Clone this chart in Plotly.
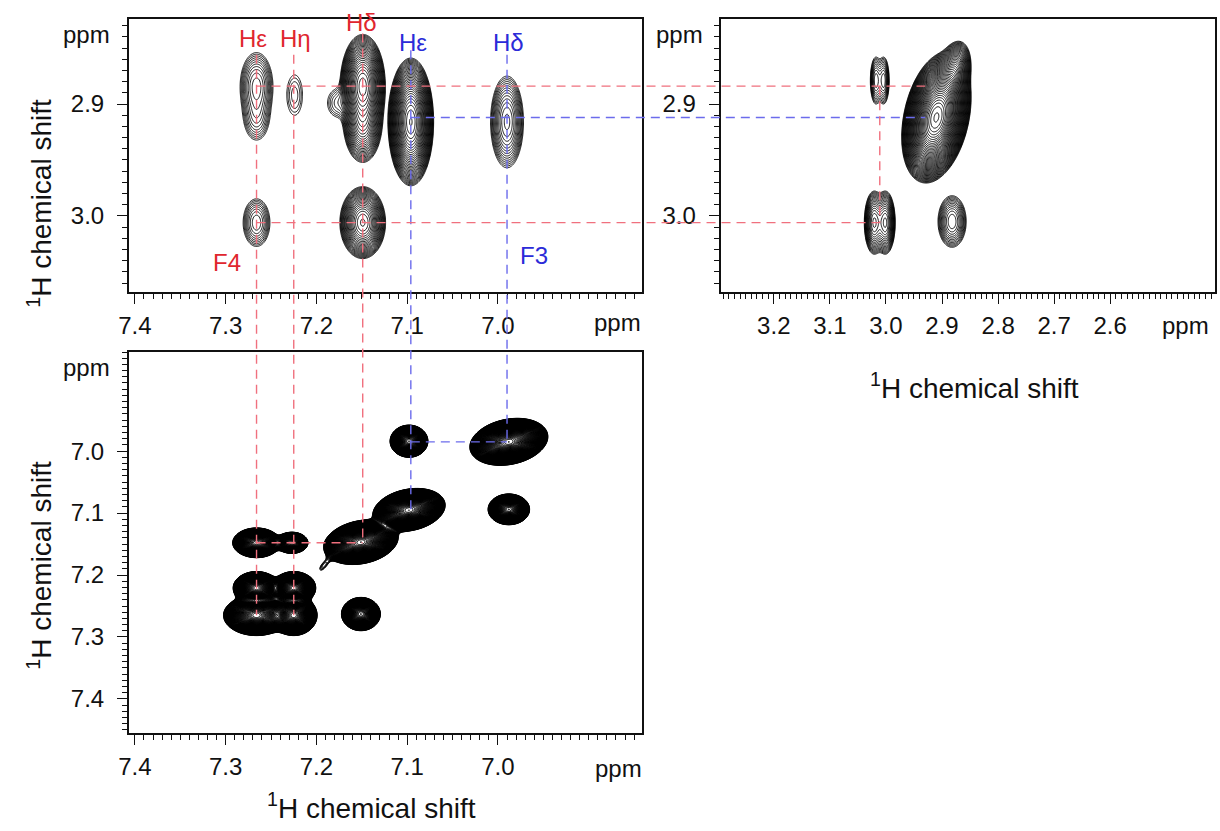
import numpy as np
import plotly.graph_objects as go

W, H = 1220, 831
FONT = "Liberation Sans, Arial, Helvetica, sans-serif"
INK = "#111111"
RED_DASH, BLUE_DASH = "#f0707e", "#6c6cec"
RED_TEXT, BLUE_TEXT = "#e0262e", "#2b2bd8"

# ppm windows (first value sits at the left / bottom edge of a frame)
x_aro_range = [7.4066, 6.841]
y_beta_range = [3.068, 2.824]
x_beta_range = [3.295, 2.413]
y_aro_range = [7.455, 6.840]

# tick marks
aro_xticks = [7.4, 7.3, 7.2, 7.1, 7.0]
aro_xlabels = ["7.4", "7.3", "7.2", "7.1", "7.0"]
aro_yticks = [7.0, 7.1, 7.2, 7.3, 7.4]
aro_ylabels = ["7.0", "7.1", "7.2", "7.3", "7.4"]
beta_yticks = [2.9, 3.0]
beta_ylabels = ["2.9", "3.0"]
beta_xticks = [3.2, 3.1, 3.0, 2.9, 2.8, 2.7, 2.6]
beta_xlabels = ["3.2", "3.1", "3.0", "2.9", "2.8", "2.7", "2.6"]

# cross peaks: aromatic (x) vs beta (y)
ab_x = [7.266, 7.266, 7.266, 7.224, 7.149, 7.149, 7.176, 7.149, 7.096, 6.990]
ab_y = [2.884, 2.912, 3.006, 2.892, 2.884, 2.915, 2.899, 3.006, 2.916, 2.916]
ab_sx = [0.0086, 0.0080, 0.0077, 0.0071, 0.0075, 0.0075, 0.0085, 0.0083, 0.0070, 0.0077]
ab_sy = [0.0143, 0.0120, 0.0111, 0.0148, 0.0139, 0.0130, 0.0090, 0.0106, 0.0159, 0.0174]
ab_amp = [9, 4, 6.3, 2.1, 250, 60, 2.6, 100, 630, 16]
ab_rho = [0, 0, 0, 0, 0, 0, 0, 0, 0, 0]

# beta (x) vs beta (y)
bb_x = [3.018, 3.004, 3.021, 3.001, 2.882, 2.910, 2.880]
bb_y = [2.879, 2.879, 3.006, 3.006, 3.005, 2.912, 2.874]
bb_sx = [0.0052, 0.0052, 0.0072, 0.0072, 0.0120, 0.0150, 0.0110]
bb_sy = [0.0110, 0.0110, 0.0115, 0.0115, 0.0110, 0.0142, 0.0105]
bb_amp = [6, 6, 20, 20, 9, 5000, 60]
bb_rho = [0, 0, 0, 0, 0, 0.3, 0.3]

# aromatic (x) vs aromatic (y)
aa_x = [7.098, 6.988, 6.988, 7.098, 7.151, 7.151, 7.266, 7.227,
        7.266, 7.266, 7.225, 7.225, 7.192]
aa_y = [6.984, 6.985, 7.094, 7.095, 7.147, 7.263, 7.148, 7.148,
        7.221, 7.265, 7.221, 7.265, 7.185]
aa_sx = [0.0073, 0.0136, 0.0080, 0.0126, 0.0130, 0.0075, 0.0092, 0.0068,
         0.0085, 0.0120, 0.0080, 0.0085, 0.0060]
aa_sy = [0.0091, 0.0120, 0.0087, 0.0110, 0.0114, 0.0094, 0.0084, 0.0066,
         0.0088, 0.0108, 0.0088, 0.0108, 0.0100]
aa_amp = [60, 150, 60, 150, 150, 60, 60, 30, 100, 100, 100, 100, 1.3]
aa_rho = [0, 0.22, 0, 0.22, 0.22, 0, 0, 0, 0, 0, 0, 0, 0.7]

# assignment walk: verticals run from the top frame down into the lower frame
v_x = [7.266, 7.225, 7.149, 7.096, 6.990]
v_from_beta = [2.856, 2.856, 2.837, 2.852, 2.856]
v_to_aro = [7.265, 7.265, 7.148, 7.095, 6.985]
v_red = [True, True, True, False, False]
# horizontals run from the aromatic frame across into the beta frame
h_y = [2.884, 3.006, 2.912]
h_from_aro = [7.266, 7.266, 7.096]
h_to_beta = [2.930, 3.011, 2.930]
h_red = [True, True, False]

# peak labels
lab_text = ["Hε", "Hη", "Hδ", "Hε", "Hδ", "F4", "F3"]
lab_x = [7.270, 7.223, 7.150, 7.094, 6.988, 7.298, 6.960]
lab_y = [2.841, 2.841, 2.827, 2.845, 2.845, 3.042, 3.035]
lab_red = [True, True, True, False, False, True, False]

# frames in pixels: left, top, right, bottom
TL = (119, 19, 637, 292)
TR = (716, 19, 1215, 292)
BL = (119, 352, 637, 733)


def xdom(f):
    return [f[0] / W, f[2] / W]


def ydom(f):
    return [1 - f[3] / H, 1 - f[1] / H]


def to_paper(v, domain, rng):
    return domain[0] + (v - rng[0]) / (rng[1] - rng[0]) * (domain[1] - domain[0])


def spectrum(xr, yr, nx, ny, px, py, sx, sy, amp, rho):
    x = np.linspace(min(xr), max(xr), nx)
    y = np.linspace(min(yr), max(yr), ny)
    X, Y = np.meshgrid(x, y)
    inten = np.zeros_like(X)
    for cx, cy, wx, wy, a, r in zip(px, py, sx, sy, amp, rho):
        dx = (X - cx) / wx
        dy = (Y - cy) / wy
        q = (dx * dx - 2 * r * dx * dy + dy * dy) / (1 - r * r)
        inten += a * np.exp(-0.5 * q)
    return x, y, np.log10(inten + 1e-9)


def contour(xr, yr, nx, ny, peaks, step, xa, ya, lw):
    x, y, z = spectrum(xr, yr, nx, ny, *peaks)
    return go.Contour(
        x=x, y=y, z=z, xaxis=xa, yaxis=ya,
        autocontour=False,
        contours=dict(coloring="lines", start=0.0, end=float(z.max()), size=step),
        colorscale=[[0, "#000000"], [1, "#000000"]],
        line=dict(width=lw),
        showscale=False, hoverinfo="skip",
    )


fig = go.Figure()
fig.add_trace(contour(x_aro_range, y_beta_range, 560, 300,
                      (ab_x, ab_y, ab_sx, ab_sy, ab_amp, ab_rho), 0.09, "x", "y", 0.9))
fig.add_trace(contour(x_beta_range, y_beta_range, 540, 300,
                      (bb_x, bb_y, bb_sx, bb_sy, bb_amp, bb_rho), 0.08, "x2", "y2", 0.9))
fig.add_trace(contour(x_aro_range, y_aro_range, 560, 420,
                      (aa_x, aa_y, aa_sx, aa_sy, aa_amp, aa_rho), 0.025, "x3", "y3", 1))

tickfont = dict(family=FONT, size=24, color=INK)


def axis(rng, dom, anchor, tv, tt, standoff):
    return dict(
        range=rng, domain=dom, anchor=anchor,
        showline=True, mirror=True, linecolor=INK, linewidth=1.8,
        showgrid=False, zeroline=False,
        tickmode="array", tickvals=tv, ticktext=tt,
        ticks="outside", ticklen=10, tickwidth=1, tickcolor=INK,
        ticklabelstandoff=standoff, tickfont=tickfont,
        minor=dict(ticks="outside", ticklen=5, tickwidth=1, tickcolor=INK,
                   tickmode="linear", tick0=0, dtick=0.01, showgrid=False),
    )


fig.update_layout(
    width=W, height=H, margin=dict(l=0, r=0, t=0, b=0),
    paper_bgcolor="white", plot_bgcolor="white", showlegend=False,
    xaxis=axis(x_aro_range, xdom(TL), "y", aro_xticks, aro_xlabels, 1),
    yaxis=axis(y_beta_range, ydom(TL), "x", beta_yticks, beta_ylabels, 8),
    xaxis2=axis(x_beta_range, xdom(TR), "y2", beta_xticks, beta_xlabels, 1),
    yaxis2=axis(y_beta_range, ydom(TR), "x2", beta_yticks, beta_ylabels, 8),
    xaxis3=axis(x_aro_range, xdom(BL), "y3", aro_xticks, aro_xlabels, 1),
    yaxis3=axis(y_aro_range, ydom(BL), "x3", aro_yticks, aro_ylabels, 8),
)

dash = "9px,6px"
shapes = []
for x, y0, y1, red in zip(v_x, v_from_beta, v_to_aro, v_red):
    shapes.append(dict(
        type="line", xref="x", yref="paper", x0=x, x1=x,
        y0=to_paper(y0, ydom(TL), y_beta_range), y1=to_paper(y1, ydom(BL), y_aro_range),
        line=dict(color=RED_DASH if red else BLUE_DASH, width=1.4, dash=dash)))
for y, xa, xb, red in zip(h_y, h_from_aro, h_to_beta, h_red):
    shapes.append(dict(
        type="line", xref="paper", yref="y", y0=y, y1=y,
        x0=to_paper(xa, xdom(TL), x_aro_range), x1=to_paper(xb, xdom(TR), x_beta_range),
        line=dict(color=RED_DASH if red else BLUE_DASH, width=1.4, dash=dash)))
# walk inside the beta frame and inside the aromatic frame
shapes.append(dict(type="line", xref="x2", yref="y2", x0=h_to_beta[1], x1=h_to_beta[1],
                   y0=h_y[0], y1=h_y[1], line=dict(color=RED_DASH, width=1.4, dash=dash)))
shapes.append(dict(type="line", xref="x3", yref="y3", x0=v_x[0], x1=v_x[2],
                   y0=v_to_aro[2], y1=v_to_aro[2], line=dict(color=RED_DASH, width=1.4, dash=dash)))
shapes.append(dict(type="line", xref="x3", yref="y3", x0=v_x[3], x1=v_x[4],
                   y0=v_to_aro[4], y1=v_to_aro[4], line=dict(color=BLUE_DASH, width=1.4, dash=dash)))
fig.update_layout(shapes=shapes)

ann = []
for t, x, y, red in zip(lab_text, lab_x, lab_y, lab_red):
    ann.append(dict(text=t, x=x, y=y, xref="x", yref="y", showarrow=False,
                    xanchor="center", yanchor="middle",
                    font=dict(family=FONT, size=24, color=RED_TEXT if red else BLUE_TEXT)))


# unit labels and axis titles placed in page pixels
def page(xp, yp):
    return xp / W, 1 - yp / H


for xp, yp in [(612, 322), (1185, 325), (613, 768), (76, 35), (675, 35), (76, 367)]:
    px_, py_ = page(xp, yp)
    ann.append(dict(text="ppm", x=px_, y=py_, xref="paper", yref="paper", showarrow=False,
                    xanchor="center", yanchor="middle", font=dict(family=FONT, size=24, color=INK)))

title = "<sup>1</sup>H chemical shift"
for xp, yp, ang in [(364, 806, 0), (972, 386, 0), (29, 203, -90), (29, 565, -90)]:
    px_, py_ = page(xp, yp)
    ann.append(dict(text=title, x=px_, y=py_, xref="paper", yref="paper", showarrow=False,
                    textangle=ang, xanchor="center", yanchor="middle",
                    font=dict(family=FONT, size=28, color=INK)))
fig.update_layout(annotations=ann)

fig.write_html("out.html")
